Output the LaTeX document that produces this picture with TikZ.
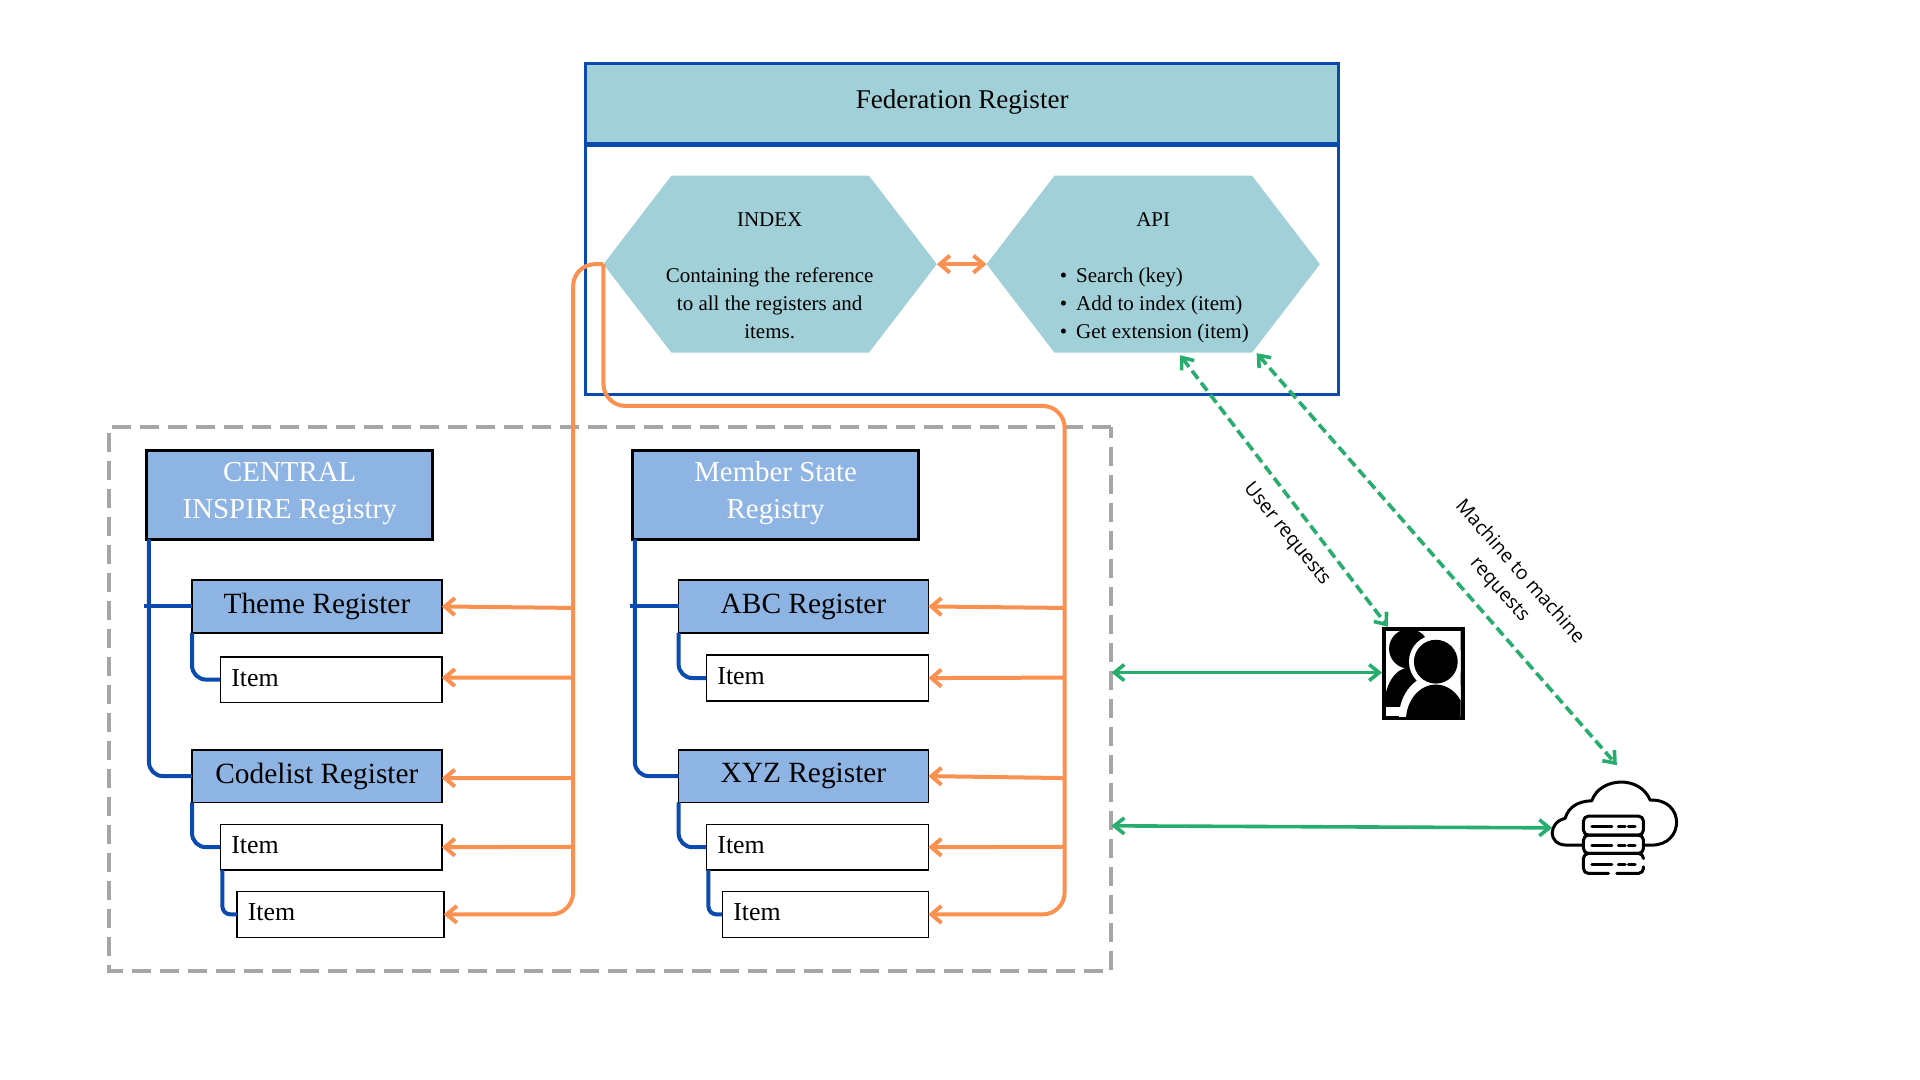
\documentclass[tikz,border=0pt]{standalone}
\usepackage{fontspec}
\setmainfont{Liberation Serif}
\newfontfamily\labelfont{Open Sans}
\usetikzlibrary{arrows.meta,shapes.symbols}
\definecolor{tealfill}{HTML}{A1D0D8}
\definecolor{regfill}{HTML}{8EB4E3}
\definecolor{fedblue}{HTML}{0B4AAE}
\definecolor{orangeline}{HTML}{FB9150}
\definecolor{greenline}{HTML}{27AE6F}
\definecolor{dashgray}{HTML}{A6A6A6}
\tikzset{
  boxbase/.style={anchor=north west,inner sep=0pt,outer sep=0pt},
  registry/.style={boxbase,draw=black,line width=3pt,fill=regfill,text=white,align=center,minimum width=287,minimum height=89,font=\fontsize{29}{37}\selectfont},
  register/.style={boxbase,draw=black,line width=1.6pt,fill=regfill,minimum width=251,minimum height=53,font=\fontsize{29.5}{35}\selectfont},
  itembox/.style={boxbase,draw=black,line width=1.6pt,fill=white,minimum height=46,inner xsep=11pt,align=left,text depth=4pt,font=\fontsize{26}{30}\selectfont},
  hexa/.style={shape=signal,signal to=east and west,signal pointer angle=105,fill=tealfill,minimum width=335,minimum height=178,inner sep=0pt,outer sep=0pt},
  hexatext/.style={font=\fontsize{21.1}{28.3}\selectfont,inner sep=0pt},
  sidelabel/.style={font=\labelfont\fontsize{19.5}{27}\selectfont,align=center,inner sep=0pt},
  blueline/.style={draw=fedblue,line width=4pt,rounded corners=14pt},
  orangeline/.style={draw=orangeline,line width=4pt,-{Straight Barb[length=10pt,width=17pt]}},
  orangetrunk/.style={orangeline,rounded corners=22pt},
  greenline/.style={draw=greenline,line width=3.6pt,{Straight Barb[length=10pt,width=16pt]}-{Straight Barb[length=10pt,width=16pt]}},
  greendash/.style={greenline,dash pattern=on 10pt off 5pt},
  iconline/.style={draw=black,line width=3pt,line cap=round,line join=round},
}
\begin{document}
\begin{tikzpicture}[x=1pt,y=-1pt,scale=0.995,transform shape]
  \useasboundingbox (0,0) rectangle (1929.6,1085.4);

  % outer group of registries
  \node[boxbase,draw=dashgray,line width=4pt,dash pattern=on 19pt off 9pt,minimum width=1007,minimum height=546] (group) at (110,429.5) {};

  % federation register
  \node[boxbase,draw=fedblue,line width=3pt,minimum width=757,minimum height=332] (fedframe) at (588,64) {};
  \node[boxbase,draw=fedblue,line width=3pt,fill=tealfill,minimum width=757,minimum height=81] (fedhead) at (588,64) {};
  \draw[fedblue,line width=5pt] (fedhead.south west) -- (fedhead.south east);
  \node[font=\fontsize{27.2}{32}\selectfont,inner sep=0pt] (fedtitle) at (967,102.5) {Federation Register};
  \node[hexa] (index) at (774,265.5) {};
  \node[hexa] (api) at (1159,265.5) {};
  \node[hexatext] (indextitle) at (773.5,221) {INDEX};
  \node[hexatext,align=center] (indextext) at (773.5,305) {Containing the reference\\to all the registers and\\items.};
  \node[hexatext] (apititle) at (1159,221) {API};
  \node[hexatext,align=left,anchor=west] (apitext) at (1065,307.2) {\textbullet\hspace{9pt}Search (key)\\\textbullet\hspace{9pt}Add to index (item)\\\textbullet\hspace{9pt}Get extension (item)};

  % central registry
  \node[registry] (central) at (147.7,453) {CENTRAL\\INSPIRE Registry\rule[-9.5pt]{0pt}{0pt}};
  \node[register] (theme) at (193,583) {Theme Register};
  \node[itembox,minimum width=222.5,text width=200.5] (themeitem) at (221.5,660) {Item};
  \node[register] (codelist) at (193,753.5) {Codelist Register};
  \node[itembox,minimum width=222.5,text width=200.5] (codeitem) at (221.5,828.5) {Item};
  \node[itembox,minimum width=208,text width=186] (codesub) at (238,896) {Item};

  % member state registry
  \node[registry] (member) at (636,453) {Member State\\Registry\rule[-9.5pt]{0pt}{0pt}};
  \node[register] (abc) at (682,583) {ABC Register};
  \node[itembox,minimum width=223,text width=201] (abcitem) at (710,658.5) {Item};
  \node[register] (xyz) at (682,753.5) {XYZ Register};
  \node[itembox,minimum width=223,text width=201] (xyzitem) at (710,828.5) {Item};
  \node[itembox,minimum width=207,text width=185] (xyzsub) at (726,896) {Item};

  % tree lines
  \draw[blueline] ([xshift=2pt]central.south west) |- (codelist.west);
  \draw[blueline] ([xshift=-3pt]central.south west |- theme.west) -- (theme.west);
  \draw[blueline] (theme.south west) |- (themeitem.west);
  \draw[blueline] (codelist.south west) |- (codeitem.west);
  \draw[blueline,rounded corners=8pt] ([xshift=2pt]codeitem.south west) |- (codesub.west);
  \draw[blueline] ([xshift=2pt]member.south west) |- (xyz.west);
  \draw[blueline] ([xshift=-3pt]member.south west |- abc.west) -- (abc.west);
  \draw[blueline] (abc.south west) |- (abcitem.west);
  \draw[blueline] (xyz.south west) |- (xyzitem.west);
  \draw[blueline,rounded corners=8pt] ([xshift=2pt]xyzitem.south west) |- (xyzsub.west);

  % index links
  \coordinate (leftbus) at (576,611);
  \coordinate (rightbus) at (1070,611);
  \coordinate (toprail) at (1070,408);
  \coordinate (leftthemeitem) at (576,681);
  \coordinate (leftcodelist) at (576,782);
  \coordinate (leftcodeitem) at (576,851);
  \coordinate (rightabcitem) at (1070,681);
  \coordinate (rightxyz) at (1070,782);
  \coordinate (rightxyzitem) at (1070,851);
  \draw[orangetrunk] (index.west) -| (leftbus) |- (codesub.east);
  \draw[orangetrunk] (index.west) |- (toprail) -- (rightbus) |- (xyzsub.east);
  \draw[orangeline] (leftbus) -- (theme.east);
  \draw[orangeline] (leftthemeitem) -- ([yshift=2pt]themeitem.east);
  \draw[orangeline] (leftcodelist) -- ([yshift=-2pt]codelist.east);
  \draw[orangeline] (leftcodeitem) -- (codeitem.east);
  \draw[orangeline] (rightbus) -- (abc.east);
  \draw[orangeline] (rightabcitem) -- (abcitem.east);
  \draw[orangeline] (rightxyz) -- (xyz.east);
  \draw[orangeline] (rightxyzitem) -- (xyzitem.east);
  \draw[orangeline,{Straight Barb[length=10pt,width=17pt]}-{Straight Barb[length=10pt,width=17pt]}] (index.east) -- (api.west);

  % user icon
  \node[boxbase,fill=black,minimum width=83,minimum height=94] (people) at (1389,630) {};
  \begin{scope}
    \clip (1393,634) rectangle (1468,720);
    \fill[white] (1393,634) rectangle (1468,720);
    \fill[black] (1416,652) circle (20);
    \fill[black] (1416,711) ellipse (25 and 40);
    \fill[white] (1393,711) rectangle (1450,720);
    \fill[white] (1443,665) circle (27);
    \fill[white] (1443,721) ellipse (37 and 43);
    \fill[black] (1443,665) circle (22);
    \fill[black] (1443,724) ellipse (30 and 36);
  \end{scope}

  % cloud icon
  \begin{scope}[shift={(1306.6,583)},x=0.335pt,y=-0.335pt]
    \draw[iconline] (850,795) -- (800,795) .. controls (740,795) and (745,725) .. (795,715)
      .. controls (805,680) and (835,663) .. (875,662) .. controls (900,590) and (1020,585) .. (1050,660)
      .. controls (1155,655) and (1155,795) .. (1055,795) -- (1030,795);
    \draw[iconline,rounded corners=5pt] (850,708) rectangle (1030,765);
    \draw[iconline,rounded corners=5pt] (850,765) rectangle (1030,820);
    \draw[iconline,rounded corners=5pt] (925,880) -- (850,880) -- (850,820) -- (1030,820) -- (1030,835);
    \draw[iconline,rounded corners=5pt] (1030,860) -- (1030,880) -- (950,880);
    \draw[iconline] (875,740) -- (935,740) (955,740) -- (975,740) (985,740) -- (1005,740);
    \draw[iconline] (875,796) -- (935,796) (955,796) -- (975,796) (985,796) -- (1005,796);
    \draw[iconline] (875,852) -- (935,852) (955,852) -- (975,852) (985,852) -- (1005,852);
  \end{scope}
  \coordinate (cloudwest) at (1560,832);
  \coordinate (cloudtop) at (1625,769);

  % outside links
  \coordinate (apileft) at (1186,357);
  \coordinate (apiright) at (1263,355);
  \coordinate (peopletop) at (1395,630);
  \coordinate (groupuser) at (1117,676);
  \coordinate (peopleuser) at (1389,676);
  \coordinate (groupcloud) at (1117,830);
  \draw[greenline] (groupuser) -- (peopleuser);
  \draw[greenline] (groupcloud) -- (cloudwest);
  \draw[greendash] (apileft) -- (peopletop);
  \draw[greendash] (apiright) -- (cloudtop);

  \node[sidelabel,rotate=-51] (userlabel) at (1293,537) {User requests};
  \node[sidelabel,rotate=-48.5] (machinelabel) at (1517,584) {Machine to machine\\requests};
\end{tikzpicture}
\end{document}
